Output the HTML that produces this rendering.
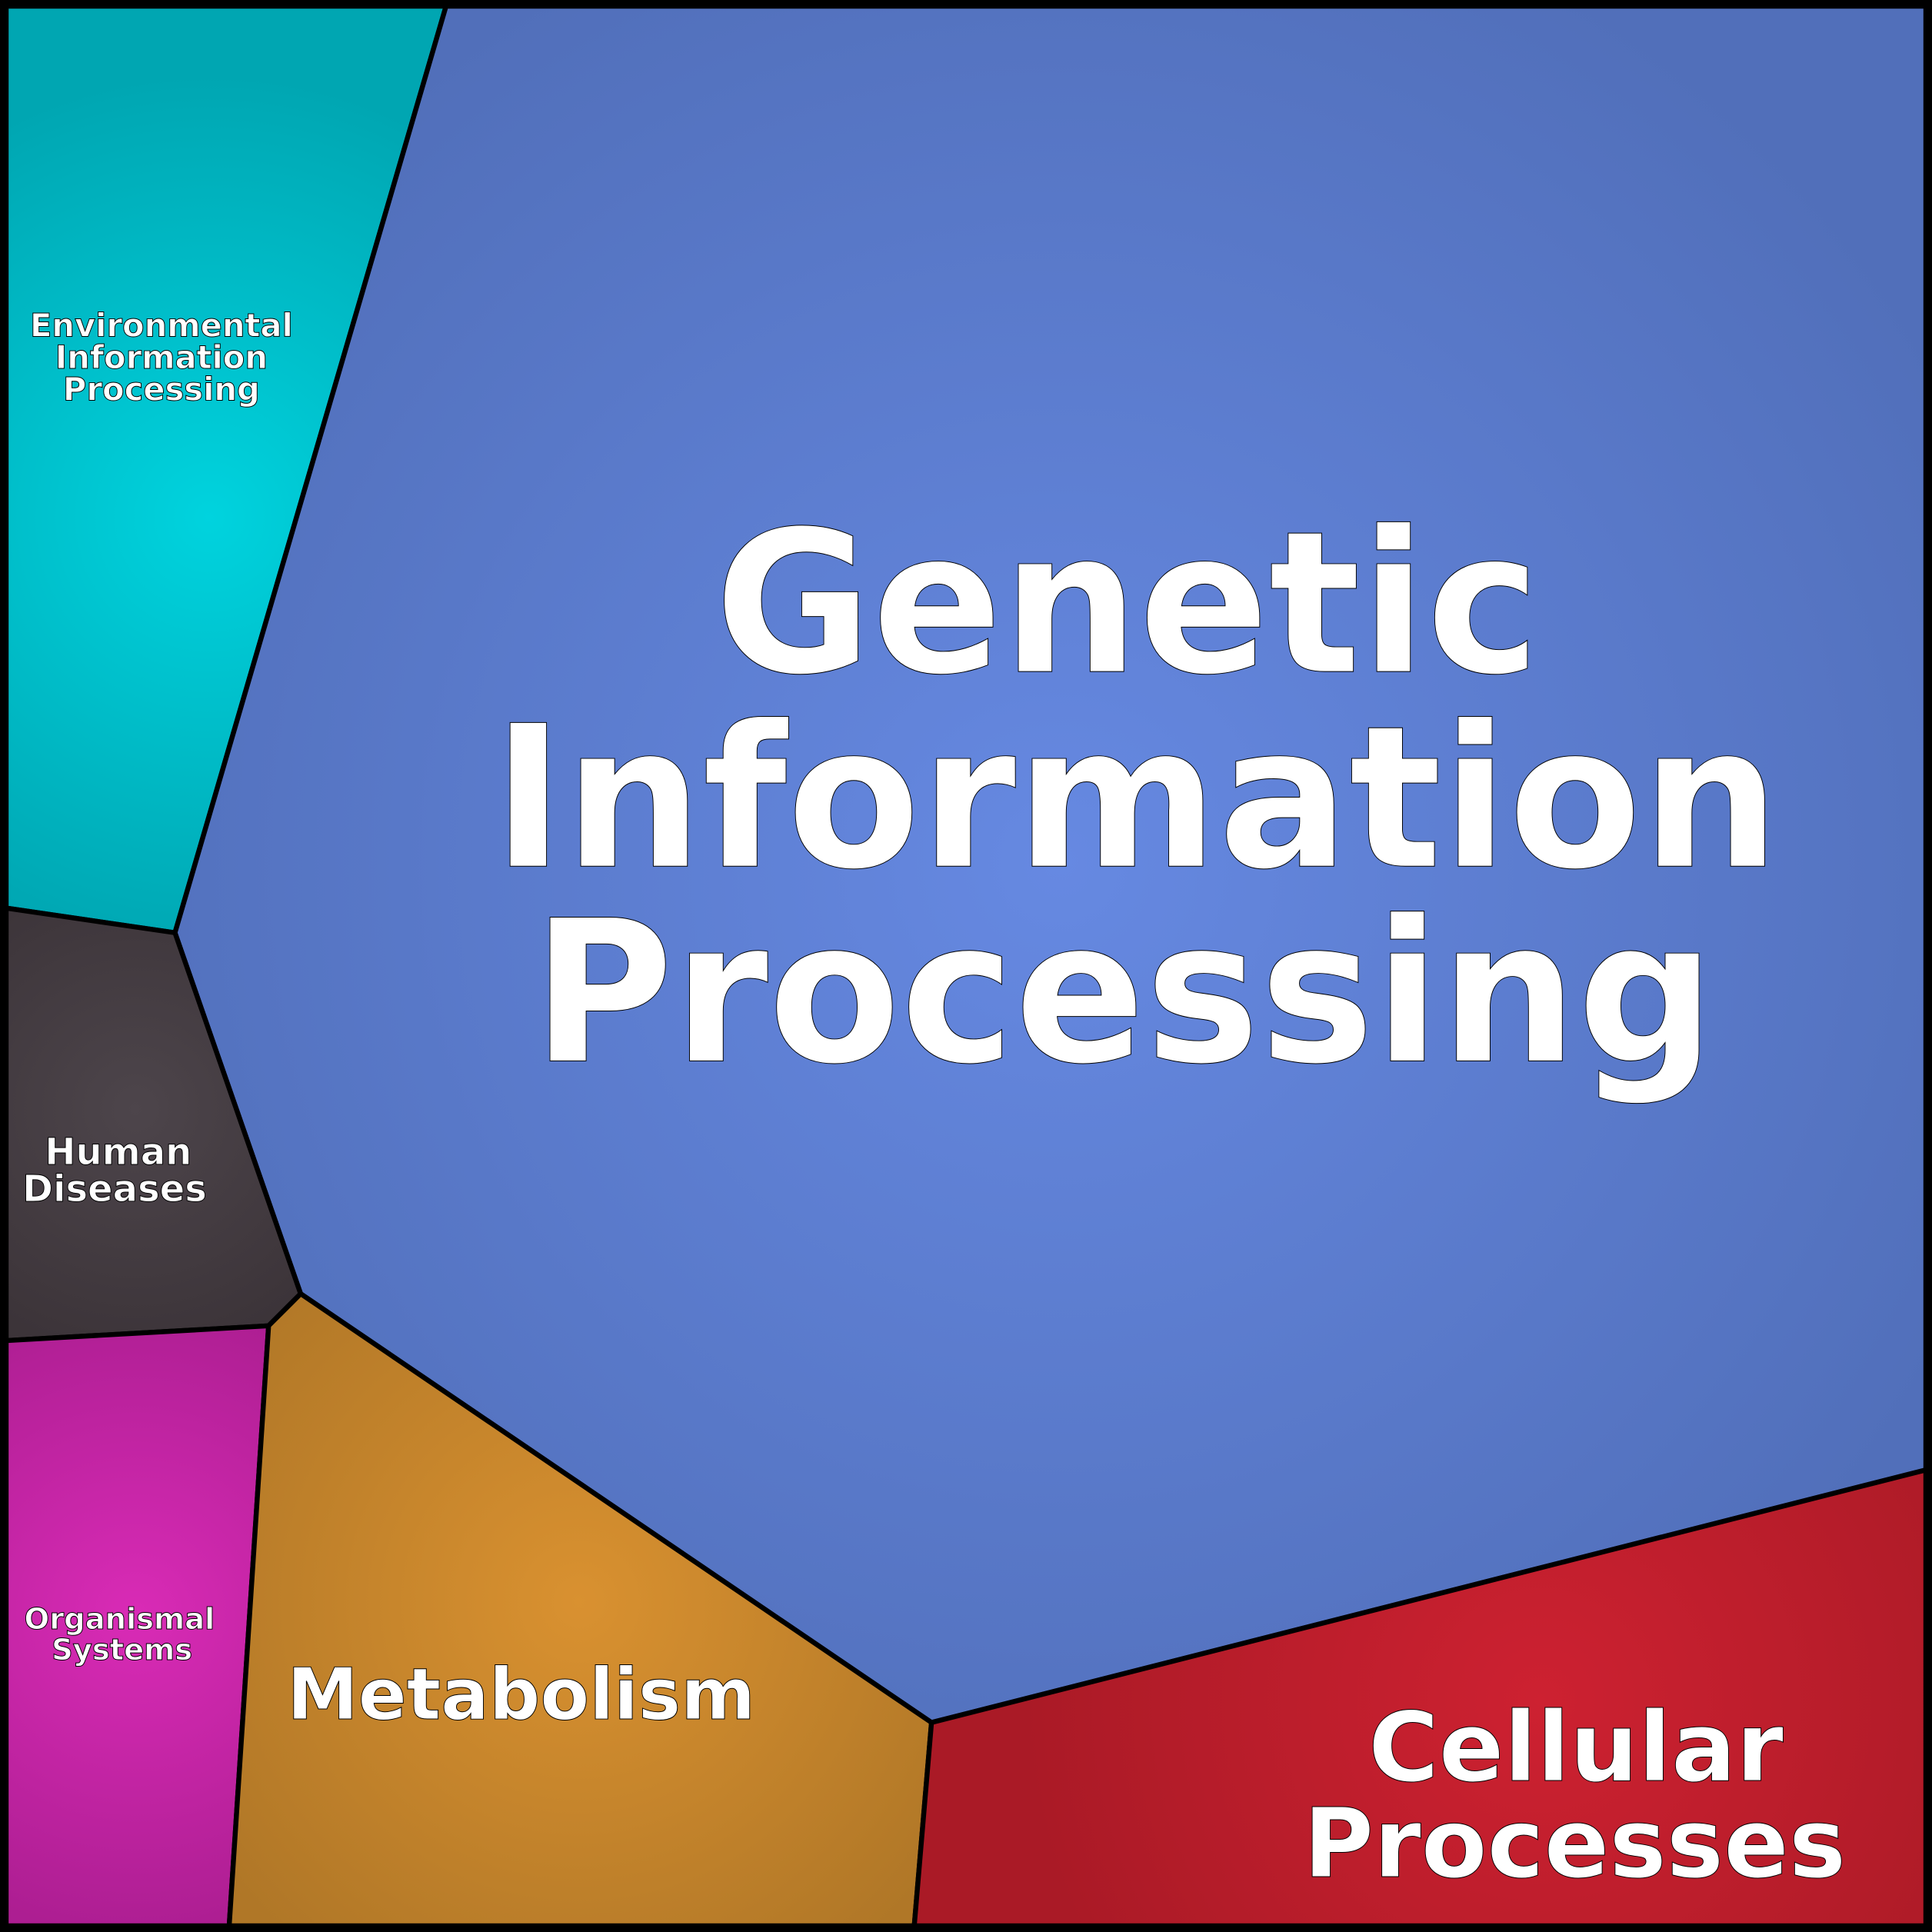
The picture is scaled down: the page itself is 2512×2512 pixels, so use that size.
<!DOCTYPE html>
<html><head><meta charset="utf-8"><style>html,body{margin:0;padding:0;background:#000}svg{display:block}</style></head><body>
<svg width="2512" height="2512" viewBox="0 0 1568 1568" xmlns="http://www.w3.org/2000/svg">
<defs>
<radialGradient id="gG" gradientUnits="userSpaceOnUse" cx="860" cy="700" r="820"><stop offset="0" stop-color="#6689e2"/><stop offset="1" stop-color="#516fba"/></radialGradient>
<radialGradient id="gE" gradientUnits="userSpaceOnUse" cx="170" cy="420" r="360"><stop offset="0" stop-color="#00d3de"/><stop offset="1" stop-color="#00a6b2"/></radialGradient>
<radialGradient id="gH" gradientUnits="userSpaceOnUse" cx="110" cy="900" r="200"><stop offset="0" stop-color="#4d454b"/><stop offset="1" stop-color="#3c3439"/></radialGradient>
<radialGradient id="gO" gradientUnits="userSpaceOnUse" cx="110" cy="1310" r="260"><stop offset="0" stop-color="#d92bb6"/><stop offset="1" stop-color="#ad1e92"/></radialGradient>
<radialGradient id="gM" gradientUnits="userSpaceOnUse" cx="470" cy="1300" r="360"><stop offset="0" stop-color="#d99130"/><stop offset="1" stop-color="#b07727"/></radialGradient>
<radialGradient id="gC" gradientUnits="userSpaceOnUse" cx="1250" cy="1380" r="420"><stop offset="0" stop-color="#cd2131"/><stop offset="1" stop-color="#aa1a26"/></radialGradient>
</defs>
<rect width="1568" height="1568" fill="#000"/>
<g stroke="#000" stroke-width="4" stroke-linejoin="round">
<polygon points="5,5 362,5 142,757 5,737" fill="url(#gE)"/>
<polygon points="362,5 1563,5 1563,1193 756,1398 244,1050 142,757" fill="url(#gG)"/>
<polygon points="5,737 142,757 244,1050 218,1076 5,1088" fill="url(#gH)"/>
<polygon points="5,1088 218,1076 186,1563 5,1563" fill="url(#gO)"/>
<polygon points="218,1076 244,1050 756,1398 742,1563 186,1563" fill="url(#gM)"/>
<polygon points="756,1398 1563,1193 1563,1563 742,1563" fill="url(#gC)"/>
</g>
<rect x="3" y="3" width="1562" height="1562" fill="none" stroke="#000" stroke-width="6"/>
<g font-family="'DejaVu Sans','Liberation Sans',sans-serif" font-weight="bold" fill="#fff" stroke="#000" stroke-width="0.6" text-anchor="middle">
<g font-size="160">
<text x="915" y="545" textLength="670" lengthAdjust="spacingAndGlyphs">Genetic</text>
<text x="922" y="703" textLength="1045" lengthAdjust="spacingAndGlyphs">Information</text>
<text x="912" y="861" textLength="960" lengthAdjust="spacingAndGlyphs">Processing</text>
</g>
<g font-size="26">
<text x="131" y="273">Environmental</text>
<text x="131" y="299">Information</text>
<text x="131" y="325">Processing</text>
</g>
<g font-size="30">
<text x="96" y="945">Human</text>
<text x="93" y="975">Diseases</text>
</g>
<g font-size="24">
<text x="97" y="1322">Organismal</text>
<text x="99" y="1347">Systems</text>
</g>
<text x="423" y="1395" font-size="58">Metabolism</text>
<g font-size="78">
<text x="1279" y="1445">Cellular</text>
<text x="1278" y="1523">Processes</text>
</g>
</g>
</svg>
</body></html>
